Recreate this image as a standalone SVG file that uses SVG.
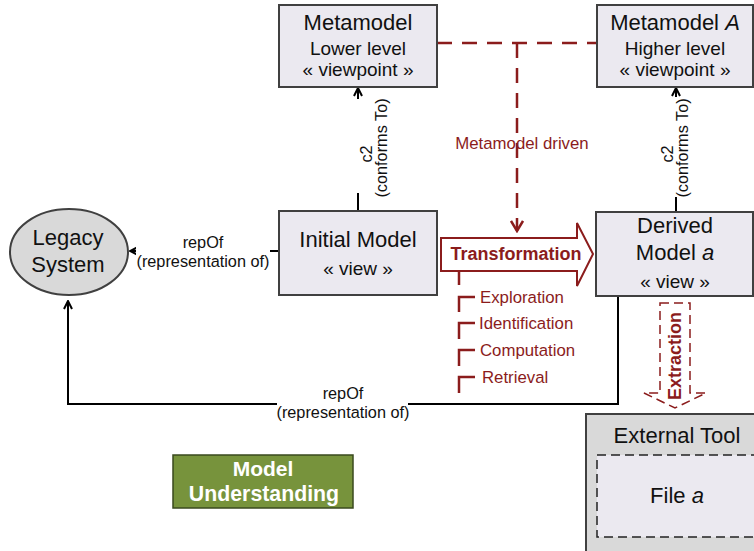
<svg xmlns="http://www.w3.org/2000/svg" width="754" height="551" viewBox="0 0 754 551">
<defs>
<style>
.box{fill:#ebe9f0;stroke:#404040;stroke-width:2}
.t{font-family:"Liberation Sans",Arial,sans-serif;fill:#111;text-anchor:middle}
.c{font-family:"Liberation Sans",Arial,sans-serif;fill:#111;text-anchor:middle;font-size:16.3px}
.r{font-family:"Liberation Sans",Arial,sans-serif;fill:#8b1c1c;font-size:16.8px}
.ln{fill:none;stroke:#000;stroke-width:2}
.rd{fill:none;stroke:#8b1c1c;stroke-width:2.5;stroke-dasharray:15 10}
.rs{fill:none;stroke:#8b1c1c;stroke-width:2.5}
</style>
<marker id="arr" viewBox="0 0 10 10" refX="9" refY="5" markerWidth="10" markerHeight="10" markerUnits="userSpaceOnUse" orient="auto"><path d="M1,1 L9,5 L1,9" fill="none" stroke="#000" stroke-width="2"/></marker>
<marker id="arrR" viewBox="0 0 14 14" refX="12" refY="7" markerWidth="14" markerHeight="14" markerUnits="userSpaceOnUse" orient="auto"><path d="M2,1 L12,7 L2,13" fill="none" stroke="#8b1c1c" stroke-width="2.5"/></marker>
</defs>
<rect width="754" height="551" fill="#fff"/>

<g id="connectors">
<line class="ln" x1="279" y1="251" x2="130" y2="251" marker-end="url(#arr)"/>
<polyline class="ln" points="618,296 618,404 68,404 68,301" marker-end="url(#arr)"/>
<line class="ln" x1="358" y1="211" x2="358" y2="88" marker-end="url(#arr)"/>
<line class="ln" x1="676" y1="212" x2="676" y2="88" marker-end="url(#arr)"/>
<line class="rd" x1="437" y1="43" x2="597" y2="43"/>
<line class="rd" x1="517" y1="43" x2="517" y2="231" marker-end="url(#arrR)"/>
<path class="rs" d="M459,271 V285 M459,312 V297 H475 M459,339 V323 H475 M459,366 V350 H475 M459,393 V377 H475"/>
<rect x="200" y="236" width="70" height="36" fill="#fff"/>
<rect x="277" y="384" width="131" height="38" fill="#fff"/>
<rect x="350" y="99" width="42" height="94" fill="#fff"/>
<rect x="658" y="97" width="40" height="100" fill="#fff"/>
<rect x="136" y="238" width="134" height="34" fill="#fff"/>
<text class="c" x="203" y="248">repOf</text>
<text class="c" x="203" y="267">(representation of)</text>
<text class="c" x="343" y="399">repOf</text>
<text class="c" x="343" y="418">(representation of)</text>
<text class="c" transform="translate(372,154) rotate(-90)">c2</text>
<text class="c" transform="translate(387,148) rotate(-90)">(conforms To)</text>
<text class="c" transform="translate(673,154) rotate(-90)">c2</text>
<text class="c" transform="translate(688,148) rotate(-90)">(conforms To)</text>
<text class="r" x="522" y="149" text-anchor="middle">Metamodel driven</text>
</g>

<g id="legacy">
<ellipse cx="69" cy="252" rx="59" ry="43" fill="#d9d9d9" stroke="#404040" stroke-width="2"/>
<text class="t" x="68" y="245" font-size="22">Legacy</text>
<text class="t" x="68" y="272" font-size="22">System</text>
</g>

<g id="metamodel-lower">
<rect class="box" x="279" y="5" width="158" height="82"/>
<text class="t" x="358" y="30" font-size="22">Metamodel</text>
<text class="t" x="358" y="55" font-size="19">Lower level</text>
<text class="t" x="358" y="76" font-size="19">« viewpoint »</text>
</g>

<g id="metamodel-higher">
<rect class="box" x="597" y="5" width="156" height="82"/>
<text class="t" x="675" y="30" font-size="22">Metamodel <tspan font-style="italic">A</tspan></text>
<text class="t" x="675" y="55" font-size="19">Higher level</text>
<text class="t" x="675" y="76" font-size="19">« viewpoint »</text>
</g>

<g id="initial-model">
<rect class="box" x="279" y="211" width="158" height="84"/>
<text class="t" x="358" y="247" font-size="22">Initial Model</text>
<text class="t" x="358" y="275" font-size="19">« view »</text>
</g>

<g id="derived-model">
<rect class="box" x="596" y="212" width="157" height="84"/>
<text class="t" x="675" y="233" font-size="22">Derived</text>
<text class="t" x="675" y="260" font-size="22">Model <tspan font-style="italic">a</tspan></text>
<text class="t" x="675" y="288" font-size="19">« view »</text>
</g>

<g id="transformation">
<polygon points="441,238 577,238 577,223 593,254 577,286 577,271 441,271" fill="#fff" stroke="#8b1c1c" stroke-width="2"/>
<text x="516" y="260" font-family="Liberation Sans,Arial,sans-serif" font-weight="bold" font-size="18" fill="#8b1c1c" text-anchor="middle">Transformation</text>
</g>

<g id="steps">
<text class="r" x="480" y="303">Exploration</text>
<text class="r" x="479" y="329">Identification</text>
<text class="r" x="480" y="356">Computation</text>
<text class="r" x="482" y="383">Retrieval</text>
</g>

<g id="extraction">
<polygon points="660,303 690,303 690,393 706,393 675,408 644,393 660,393" fill="none" stroke="#8b1c1c" stroke-width="1.5" stroke-dasharray="9 5"/>
<text transform="translate(681,356) rotate(-90)" font-family="Liberation Sans,Arial,sans-serif" font-weight="bold" font-size="18" fill="#8b1c1c" text-anchor="middle">Extraction</text>
</g>

<g id="external-tool">
<rect x="586" y="414" width="180" height="150" fill="#d9d9d9" stroke="#404040" stroke-width="2"/>
<text class="t" x="677" y="443" font-size="22">External Tool</text>
<rect x="597" y="455" width="170" height="82" fill="#ebe9f0" stroke="#222" stroke-width="1.5" stroke-dasharray="9 5"/>
<text class="t" x="677" y="503" font-size="22">File <tspan font-style="italic">a</tspan></text>
</g>

<g id="model-understanding">
<rect x="173" y="455" width="180" height="53" fill="#77933c" stroke="#3a4a1e" stroke-width="1.5"/>
<text x="263" y="476" font-family="Liberation Sans,Arial,sans-serif" font-weight="bold" font-size="21" fill="#fff" text-anchor="middle">Model</text>
<text x="264" y="501" font-family="Liberation Sans,Arial,sans-serif" font-weight="bold" font-size="21.3" fill="#fff" text-anchor="middle">Understanding</text>
</g>
</svg>
